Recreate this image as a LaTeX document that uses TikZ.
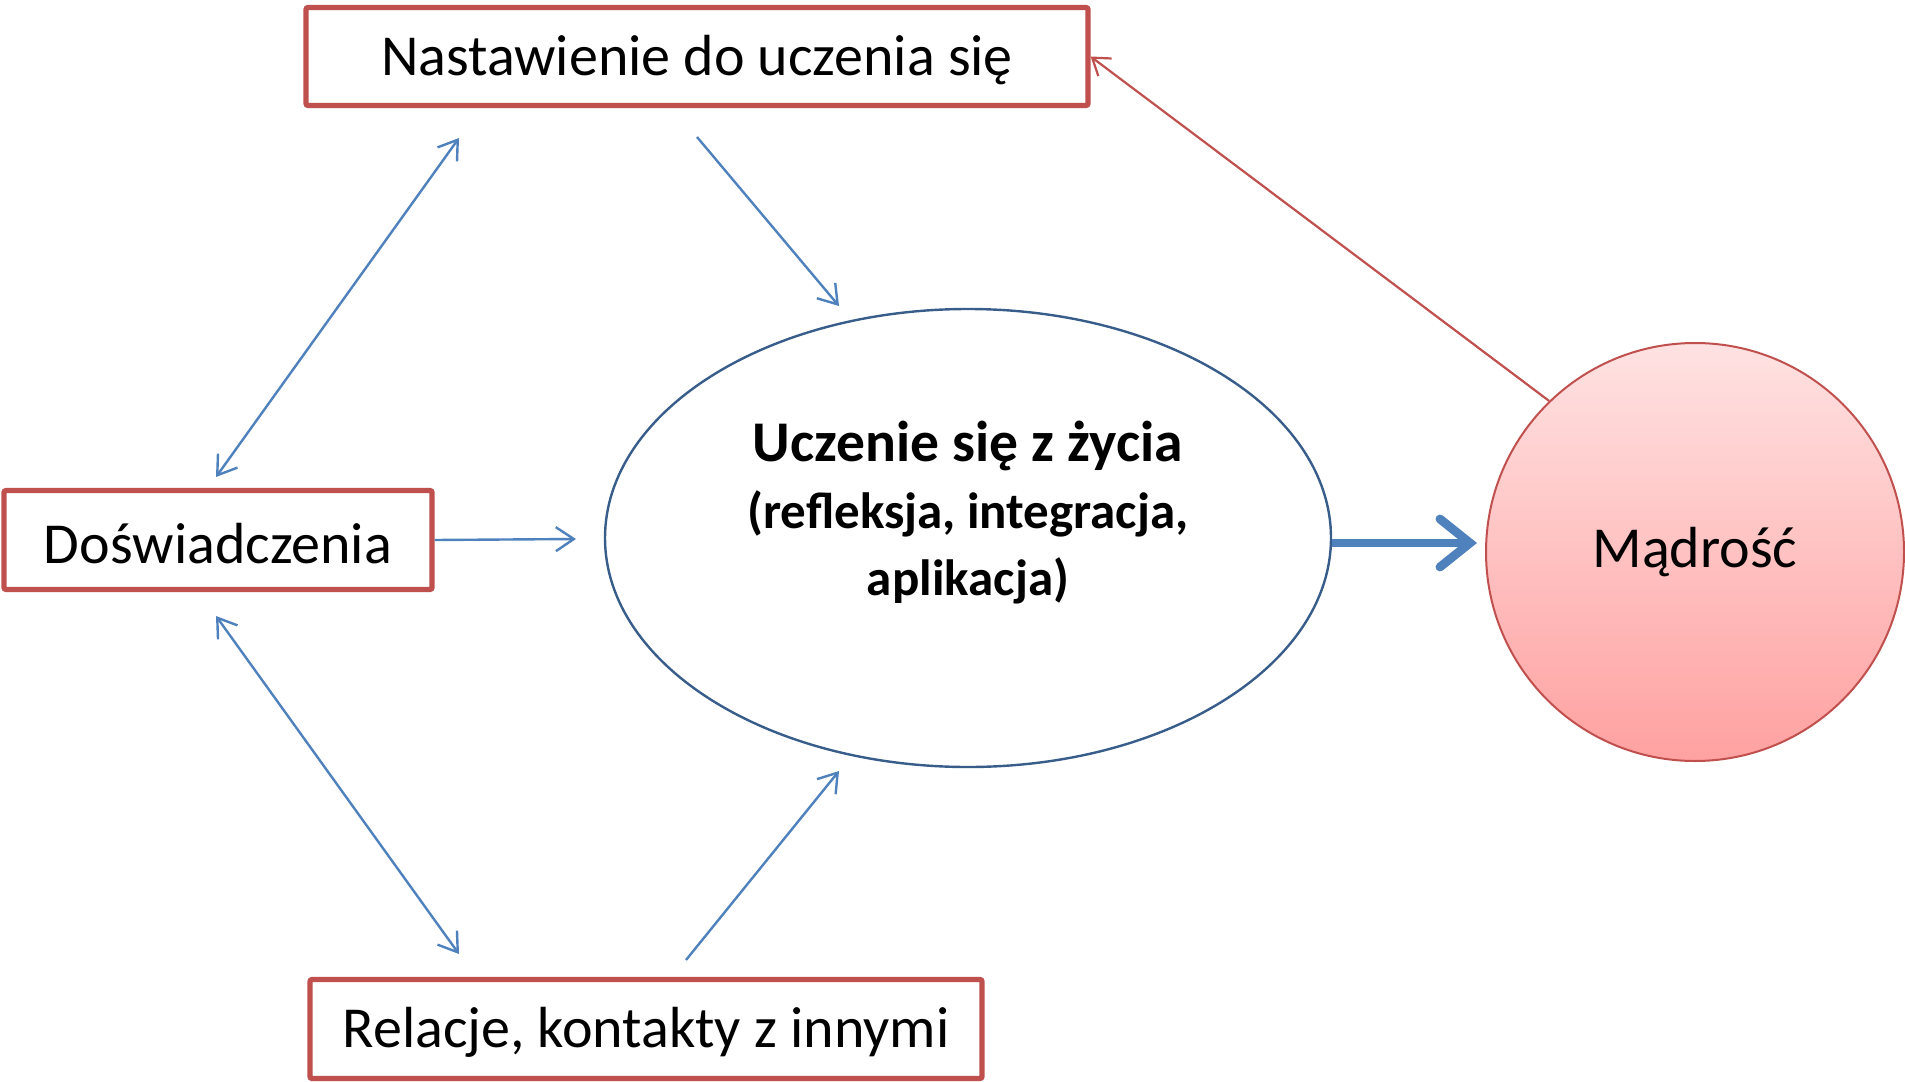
\documentclass[tikz,border=0pt]{standalone}
\usepackage{fontspec}
\setmainfont{Carlito}
\usetikzlibrary{arrows.meta,shapes.geometric}
\definecolor{boxred}{HTML}{C0504D}
\definecolor{arrblue}{HTML}{4F81BD}
\definecolor{ellblue}{HTML}{385D8A}
\definecolor{circtop}{HTML}{FFE2E2}
\definecolor{circbot}{HTML}{FFA1A1}
\newcommand\lowtxt[1]{\raisebox{-1.8pt}[\height][\depth]{#1}}
\begin{document}
\begin{tikzpicture}[x=0.5pt,y=-0.5pt,
  box/.style={draw=boxred, line width=2.6pt, rounded corners=1pt, fill=white, inner sep=0pt,
    font=\fontsize{29}{35}\selectfont},
  thinarr/.style={draw=arrblue, line width=1.2pt, >={Straight Barb[length=9pt,width=12pt]}},
  redarr/.style={draw=boxred, line width=1.1pt, -{Straight Barb[length=8pt,width=11pt]}},
  bigarr/.style={draw=arrblue, line width=4.4pt, -{Straight Barb[length=15pt,width=24pt,line cap=round]}},
]
\useasboundingbox (0,0) rectangle (1905,1081);

% nodes
\node[box, minimum width=391pt, minimum height=49pt] (top) at (697,56.5) {\lowtxt{Nastawienie do uczenia się}};
\node[box, minimum width=214pt, minimum height=49.5pt] (dos) at (218,540) {\lowtxt{Doświadczenia}};
\node[box, minimum width=336pt, minimum height=49.5pt] (rel) at (646,1029) {\lowtxt{Relacje, kontakty z innymi}};

\node[ellipse, draw=ellblue, line width=1.2pt, minimum width=363pt, minimum height=229pt, inner sep=0pt] (ell) at (968,538) {};
\node[align=center, font=\fontsize{25.5}{33.5}\selectfont\bfseries] (ellt) at (968,513)
  {{\fontsize{28.8}{33.5}\selectfont Uczenie się z życia}\\(refleksja, integracja,\\aplikacja)};

\node[circle, draw=boxred, line width=1pt, minimum size=209pt, inner sep=0pt,
  top color=circtop, bottom color=circbot, font=\fontsize{29}{35}\selectfont] (mad) at (1695,552) {Mądrość};

% free ends of connectors
\coordinate (t1) at (697,137);
\coordinate (e1) at (839,306);
\coordinate (t2) at (459,138);
\coordinate (d1) at (216,477);
\coordinate (d2) at (576,539);
\coordinate (d3) at (216,616);
\coordinate (r1) at (459,954);
\coordinate (r2) at (686,960);
\coordinate (e2) at (839,771);
\coordinate (m1) at ([yshift=-2.5pt]ell.east -| mad.west);

% connectors
\draw[thinarr, ->] (t1) -- (e1);
\draw[thinarr, <->] (d1) -- (t2);
\draw[thinarr, ->] (dos.east) -- (d2);
\draw[thinarr, <->] (d3) -- (r1);
\draw[thinarr, ->] (r2) -- (e2);
\draw[bigarr, shorten >=4pt] ([yshift=-2.5pt]ell.east) -- (m1);
\draw[redarr] (mad.134) -- (top.east);
\end{tikzpicture}
\end{document}
